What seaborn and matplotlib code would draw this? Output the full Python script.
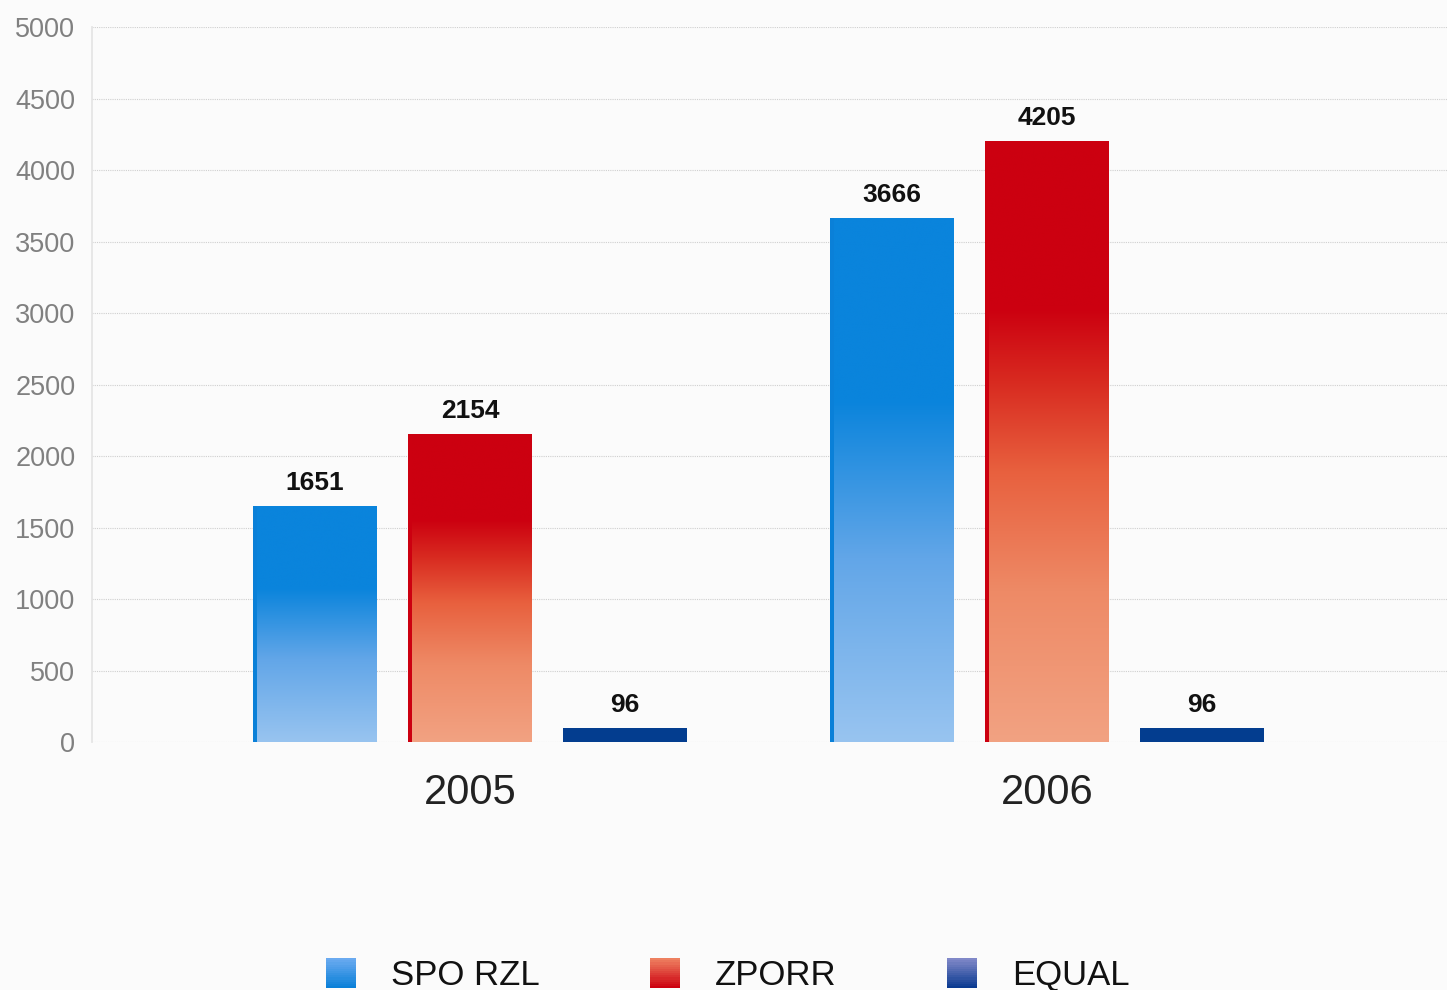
import numpy as np
import pandas as pd
import matplotlib
matplotlib.use("Agg")
import matplotlib.pyplot as plt
import seaborn as sns
from matplotlib.colors import LinearSegmentedColormap
from matplotlib.patches import Rectangle
from matplotlib.legend_handler import HandlerBase

# === data ===
years = ["2005", "2006"]
series = ["SPO RZL", "ZPORR", "EQUAL"]
spo_rzl = [1651, 3666]
zporr = [2154, 4205]
equal = [96, 96]
yticks = list(range(0, 5001, 500))

df = pd.DataFrame({
    "year": years * 3,
    "series": np.repeat(series, len(years)),
    "value": spo_rzl + zporr + equal,
})
values = [spo_rzl, zporr, equal]

# === colours ===
base = {"SPO RZL": "#0a80d8", "ZPORR": "#cc0010", "EQUAL": "#033d8f"}
bar_cmaps = [
    LinearSegmentedColormap.from_list("blue", [(0, "#98c4f0"), (0.35, "#62a6e8"),
                                               (0.65, "#0a84dc"), (1, "#0a84dc")]),
    LinearSegmentedColormap.from_list("red", [(0, "#f2a282"), (0.25, "#ee8a66"),
                                              (0.45, "#e8603e"), (0.6, "#d82a20"),
                                              (0.72, "#cc0010"), (1, "#cc0010")]),
    None,
]
legend_cols = [("#6aaaf0", "#0a80d8"), ("#ee8060", "#cc0010"), ("#8088c8", "#0a3a90")]

sns.set_theme(style="white")
plt.rcParams["font.family"] = ["Liberation Sans", "DejaVu Sans"]

fig = plt.figure(figsize=(14.47, 9.9), dpi=100, facecolor="#fbfbfb")
ax = fig.add_axes([0.0636, 0.2505, 0.9364, 0.7222])
ax.set_facecolor("#fbfbfb")

sns.barplot(data=df, x="year", y="value", hue="series", order=years, hue_order=series,
            palette=base, saturation=1, width=0.806, gap=0.2, linewidth=0,
            legend=False, ax=ax)

# gradient fill inside each bar, leaving a thin solid stripe on the left
stripe = 0.007
grad = np.linspace(0, 1, 256).reshape(-1, 1)
for i, cont in enumerate(ax.containers):
    if bar_cmaps[i] is not None:
        for bar in cont:
            x0, w, h = bar.get_x(), bar.get_width(), bar.get_height()
            im = ax.imshow(grad, cmap=bar_cmaps[i], origin="lower", aspect="auto",
                           extent=(x0 + stripe, x0 + w, 0, h), interpolation="bicubic",
                           zorder=bar.get_zorder() + 0.1)
            im.set_clip_path(bar)
    ax.bar_label(cont, labels=[str(v) for v in values[i]], padding=8,
                 fontsize=19, fontweight="bold", color="#111111", zorder=5)

ax.set_xlim(-0.655, 1.693)
ax.set_ylim(0, 5000)
ax.set_yticks(yticks)
ax.set_xlabel("")
ax.set_ylabel("")
ax.tick_params(axis="y", length=0, pad=12, labelsize=19.5, labelcolor="#808080")
ax.tick_params(axis="x", length=0, pad=22, labelsize=30, labelcolor="#222222")
ax.yaxis.grid(True, color="#cfcfcf", linestyle=(0, (1, 1)), linewidth=0.8)
ax.set_axisbelow(True)
for s in ["top", "right", "bottom"]:
    ax.spines[s].set_visible(False)
ax.spines["left"].set_color("#e4e4e4")


# === legend with gradient squares ===
class GradHandler(HandlerBase):
    def __init__(self, top, bottom):
        super().__init__()
        self.cmap = LinearSegmentedColormap.from_list("", [bottom, top])

    def create_artists(self, legend, orig_handle, xdescent, ydescent,
                       width, height, fontsize, trans):
        n = 14
        arts = []
        for k in range(n):
            r = Rectangle((-xdescent, -ydescent + height * k / n), width,
                          height / n * 1.1, facecolor=self.cmap(k / (n - 1)),
                          edgecolor="none", transform=trans)
            arts.append(r)
        return arts


handles = [Rectangle((0, 0), 1, 1) for _ in series]
hmap = {h: GradHandler(*c) for h, c in zip(handles, legend_cols)}
fig.legend(handles, series, handler_map=hmap, loc="center", bbox_to_anchor=(0.503, 0.015),
           ncol=3, frameon=False, fontsize=25, labelcolor="#111111",
           handlelength=0.85, handleheight=0.95, handletextpad=1.0, columnspacing=3.2)

fig.savefig("out.png", dpi=100, facecolor=fig.get_facecolor())
